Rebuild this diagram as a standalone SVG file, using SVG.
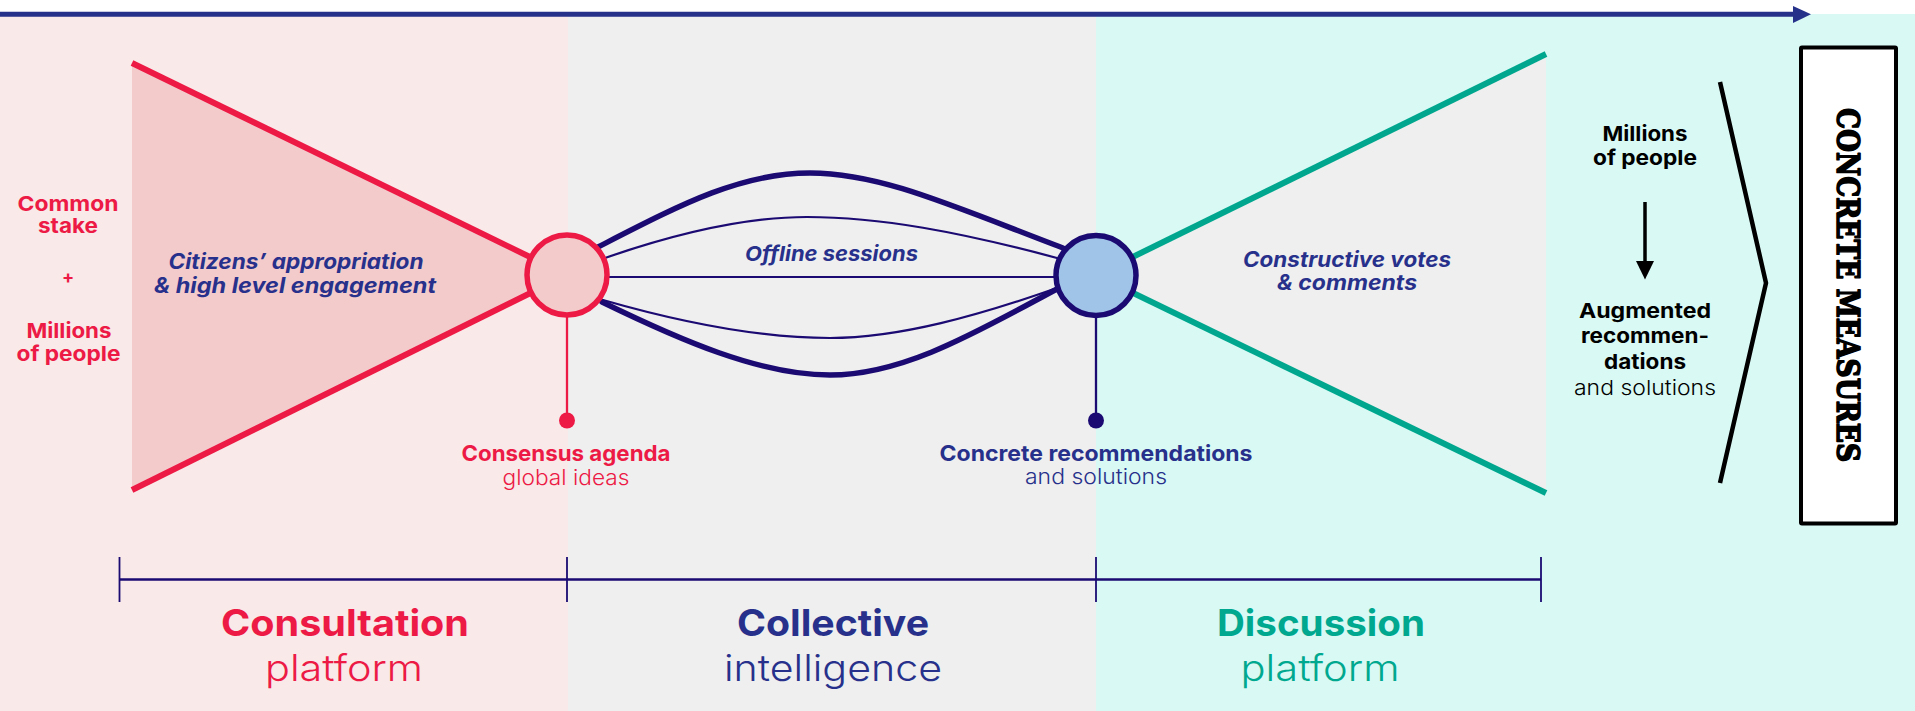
<svg xmlns="http://www.w3.org/2000/svg" width="1915" height="711" viewBox="0 0 1915 711">
<style>
.t{font-family:Inter,"Noto Sans","DejaVu Sans",sans-serif}
.b{font-weight:700}
.l{font-weight:300}
.i{font-style:italic}
.red{fill:#ec1a45}
.navy{fill:#27318b}
.teal{fill:#00a88f}
.blk{fill:#000}
.c{text-anchor:middle}
.curve{fill:none;stroke:#1a0a72;stroke-linecap:round}
.thick{stroke-width:5.5}
.thin{stroke-width:2.2}
.tick{stroke:#1a0a72;stroke-width:1.8}
</style>
<rect x="0" y="0" width="1915" height="711" fill="#ffffff"/>
<g id="backgrounds">
<rect x="0" y="14" width="568" height="697" fill="#f9e9e9"/>
<rect x="568" y="14" width="528" height="697" fill="#efefef"/>
<rect x="1096" y="14" width="819" height="697" fill="#d9f9f4"/>
</g>
<g id="timeline-arrow">
<line x1="0" y1="14.3" x2="1795" y2="14.3" stroke="#26318a" stroke-width="5"/>
<polygon points="1793,6 1811,14.3 1793,23" fill="#26318a"/>
</g>
<g id="consultation-funnel">
<polygon points="132,63 132,490 567,275" fill="#f4cbcb"/>
<line x1="132" y1="63" x2="567" y2="275" stroke="#ec1a45" stroke-width="6"/>
<line x1="132" y1="490" x2="567" y2="275" stroke="#ec1a45" stroke-width="6"/>
</g>
<g id="discussion-funnel">
<polygon points="1096,275 1546,54 1546,493" fill="#efefef"/>
<line x1="1096" y1="275" x2="1546" y2="54" stroke="#00a78e" stroke-width="6"/>
<line x1="1096" y1="275" x2="1546" y2="493" stroke="#00a78e" stroke-width="6"/>
</g>
<g id="connectors">
<path class="curve thick" d="M 598 247 C 680 205, 740 173, 810 173 C 880 173, 950 205, 1063 248"/>
<path class="curve thin" d="M 605 258 C 680 232, 750 217, 807 217 C 880 217, 960 232, 1057 258"/>
<path class="curve thin" d="M 607 277 L 1056 277"/>
<path class="curve thin" d="M 603 300 C 690 325, 770 338, 830 338 C 900 338, 980 315, 1057 288"/>
<path class="curve thick" d="M 602 302 C 680 340, 760 375, 830 375 C 905 375, 980 330, 1057 289"/>
<line x1="567" y1="300" x2="567" y2="420" stroke="#ec1a45" stroke-width="2.3"/>
<circle cx="567" cy="420.5" r="8" fill="#ec1a45"/>
<line x1="1096" y1="300" x2="1096" y2="420" stroke="#1a0a72" stroke-width="2.3"/>
<circle cx="1096" cy="420.5" r="8" fill="#1a0a72"/>
<line x1="1645" y1="202" x2="1645" y2="264" stroke="#000" stroke-width="3.5"/>
<polygon points="1636,261 1654,261 1645,279.5" fill="#000"/>
</g>
<g id="node-consensus">
<circle cx="567" cy="275" r="40" fill="#f4cbcb" stroke="#ec1a45" stroke-width="5.5"/>
<text class="t b red c" x="566" y="461" font-size="22" textLength="209" lengthAdjust="spacingAndGlyphs">Consensus agenda</text>
<text class="t l red c" x="566" y="485" font-size="22" textLength="127" lengthAdjust="spacingAndGlyphs">global ideas</text>
</g>
<g id="node-recommendations">
<circle cx="1096" cy="275.5" r="40" fill="#9fc4e8" stroke="#1a0a72" stroke-width="5.5"/>
<text class="t b navy c" x="1096" y="461" font-size="22" textLength="313" lengthAdjust="spacingAndGlyphs">Concrete recommendations</text>
<text class="t l navy c" x="1096" y="484" font-size="22" textLength="142" lengthAdjust="spacingAndGlyphs">and solutions</text>
</g>
<g id="label-left">
<text class="t b red c" x="68" y="210.5" font-size="20.5" textLength="101" lengthAdjust="spacingAndGlyphs">Common</text>
<text class="t b red c" x="68" y="233" font-size="20.5" textLength="60" lengthAdjust="spacingAndGlyphs">stake</text>
<text class="t b red c" x="68" y="283" font-size="18">+</text>
<text class="t b red c" x="69" y="338" font-size="20.5" textLength="85" lengthAdjust="spacingAndGlyphs">Millions</text>
<text class="t b red c" x="68.5" y="360.5" font-size="20.5" textLength="104" lengthAdjust="spacingAndGlyphs">of people</text>
</g>
<g id="label-citizens">
<text class="t b i navy c" x="296" y="269" font-size="21" textLength="255" lengthAdjust="spacingAndGlyphs">Citizens’ appropriation</text>
<text class="t b i navy c" x="295" y="293" font-size="21" textLength="282" lengthAdjust="spacingAndGlyphs">&amp; high level engagement</text>
</g>
<g id="label-offline">
<text class="t b i navy c" x="831.5" y="261" font-size="20.5" textLength="173" lengthAdjust="spacingAndGlyphs">Offline sessions</text>
</g>
<g id="label-constructive">
<text class="t b i navy c" x="1347" y="267" font-size="21" textLength="208" lengthAdjust="spacingAndGlyphs">Constructive votes</text>
<text class="t b i navy c" x="1347" y="290" font-size="21" textLength="140" lengthAdjust="spacingAndGlyphs">&amp; comments</text>
</g>
<g id="label-augmented">
<text class="t b blk c" x="1645" y="140.5" font-size="20.5" textLength="85" lengthAdjust="spacingAndGlyphs">Millions</text>
<text class="t b blk c" x="1645" y="164.5" font-size="20.5" textLength="104" lengthAdjust="spacingAndGlyphs">of people</text>
<text class="t b blk c" x="1645" y="318" font-size="20.5" textLength="132" lengthAdjust="spacingAndGlyphs">Augmented</text>
<text class="t b blk c" x="1645" y="343" font-size="20.5" textLength="128" lengthAdjust="spacingAndGlyphs">recommen-</text>
<text class="t b blk c" x="1645" y="369" font-size="20.5" textLength="82" lengthAdjust="spacingAndGlyphs">dations</text>
<text class="t l blk c" x="1645" y="395" font-size="20.5" textLength="142" lengthAdjust="spacingAndGlyphs">and solutions</text>
</g>
<g id="chevron">
<polyline points="1720,82 1766,283 1720,483" fill="none" stroke="#000" stroke-width="4.5"/>
</g>
<g id="node-concrete-measures">
<rect x="1801" y="47.5" width="95" height="476" fill="#ffffff" stroke="#000" stroke-width="4" rx="1"/>
<text transform="translate(1837,285) rotate(90)" text-anchor="middle" font-family="'DejaVu Serif','Liberation Serif',serif" font-weight="900" font-size="32" textLength="354" lengthAdjust="spacingAndGlyphs" fill="#000" stroke="#000" stroke-width="1.6" stroke-linejoin="round">CONCRETE MEASURES</text>
</g>
<g id="phase-bracket">
<line x1="119" y1="579.5" x2="1541" y2="579.5" stroke="#1a0a72" stroke-width="2.5"/>
<line class="tick" x1="119.5" y1="557" x2="119.5" y2="602"/>
<line class="tick" x1="567" y1="557" x2="567" y2="602"/>
<line class="tick" x1="1096" y1="557" x2="1096" y2="602"/>
<line class="tick" x1="1541" y1="557" x2="1541" y2="602"/>
</g>
<g id="phase-consultation">
<text class="t b red c" x="345" y="636" font-size="37" textLength="248" lengthAdjust="spacingAndGlyphs">Consultation</text>
<text class="t l red c" x="344" y="681" font-size="37" textLength="158" lengthAdjust="spacingAndGlyphs">platform</text>
</g>
<g id="phase-collective">
<text class="t b navy c" x="833" y="636" font-size="37" textLength="192" lengthAdjust="spacingAndGlyphs">Collective</text>
<text class="t l navy c" x="833" y="681" font-size="37" textLength="218" lengthAdjust="spacingAndGlyphs">intelligence</text>
</g>
<g id="phase-discussion">
<text class="t b teal c" x="1321" y="636" font-size="37" textLength="208" lengthAdjust="spacingAndGlyphs">Discussion</text>
<text class="t l teal c" x="1320" y="681" font-size="37" textLength="159" lengthAdjust="spacingAndGlyphs">platform</text>
</g>
</svg>
